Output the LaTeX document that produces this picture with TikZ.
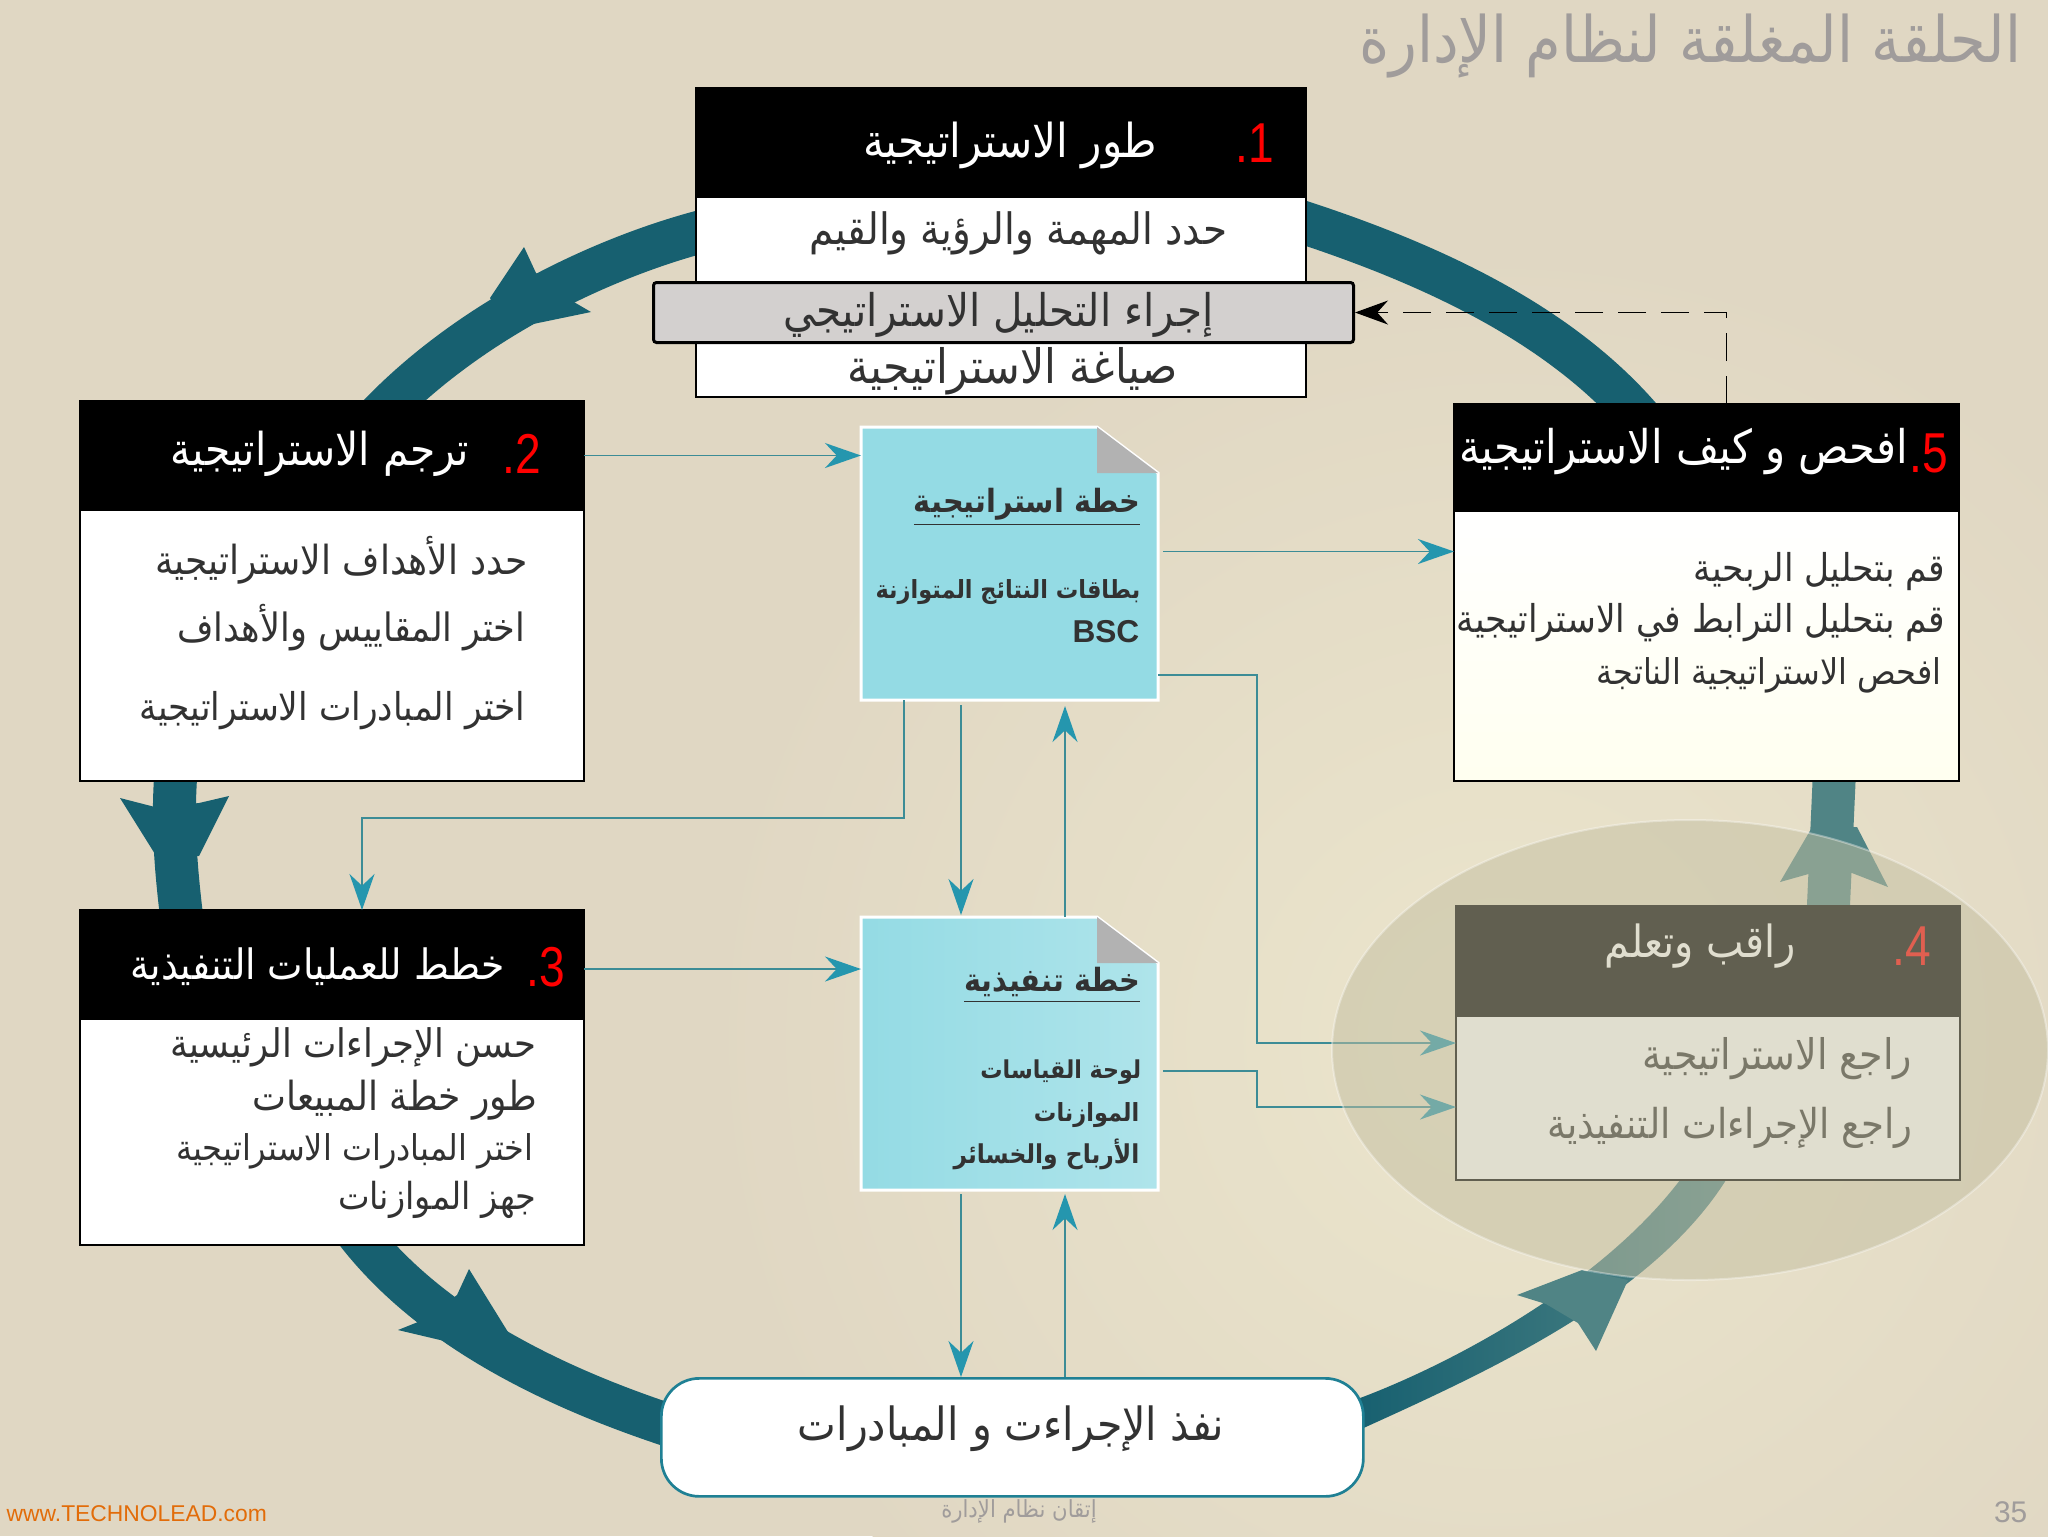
\documentclass[tikz,border=0pt]{standalone}
\usepackage{fontspec}
\setmainfont{Liberation Sans}
\newfontfamily\arabicfont[Script=Arabic,FakeStretch=.9]{DejaVu Sans}
\newfontfamily\digitfont[FakeStretch=.82]{Liberation Sans}
\TeXXeTstate=1
\usepackage{tikz}
\usetikzlibrary{arrows.meta,positioning,backgrounds}
\newcommand{\arb}[1]{\beginR #1\endR}
\definecolor{paper}{RGB}{224,215,195}
\definecolor{glow}{RGB}{235,229,204}
\definecolor{ringteal}{RGB}{23,96,112}
\definecolor{ringfade}{RGB}{80,132,133}
\definecolor{linkteal}{RGB}{60,140,150}
\definecolor{tipteal}{RGB}{37,150,174}
\definecolor{docblue}{RGB}{148,219,228}
\definecolor{foldgrey}{RGB}{178,178,178}
\definecolor{barfill}{RGB}{211,208,207}
\definecolor{inkdark}{RGB}{50,50,50}
\definecolor{titlegrey}{RGB}{160,156,155}
\definecolor{urlorange}{RGB}{226,108,9}
\definecolor{veil}{RGB}{195,190,160}
\tikzset{
    %Define style for boxes
    headbox/.style={
           rectangle,
           anchor=north west,
           fill=black,
           draw=black,
           outer sep=0pt},
    bodybox/.style={
           rectangle,
           fill=white,
           draw=black,
           line width=.15mm,
           outer sep=0pt},
    barbox/.style={
           rectangle,
           anchor=north west,
           rounded corners=.3mm,
           fill=barfill,
           draw=black,
           line width=.3mm},
    pillbox/.style={
           rectangle,
           anchor=north west,
           rounded corners=3.8mm,
           fill=white,
           draw=tipteal!85!black,
           line width=.27mm},
    docbox/.style={
           rectangle,
           anchor=north west,
           outer sep=0pt},
    %Define style for texts
    txt/.style={
           anchor=base east,
           inner sep=0pt,
           text=inkdark,
           font=\arabicfont\fontsize{#1}{#1}\selectfont},
    digit/.style={
           anchor=base east,
           inner sep=0pt,
           text=red,
           font=\digitfont\fontsize{16}{16}\selectfont},
    % Define arrow style
    pil/.style={
           ->,
           >={Stealth[length=3.6mm,width=2.5mm,color=tipteal]},
           draw=linkteal,
           line width=.15mm},
    dashpil/.style={
           ->,
           >={Stealth[length=3.3mm,width=2.4mm,color=black]},
           draw=black,
           dash pattern=on 2.8mm off 1.5mm,
           line width=.13mm},
    ring/.style={
           draw=ringteal,
           line width=4.3mm}
}
\begin{document}
\begin{tikzpicture}[x=.1mm,y=-.1mm]
\useasboundingbox (0,0) rectangle (2048,1536);

 %nodes
\node[headbox, minimum width=61mm, minimum height=10.9mm](head1) at (696,88){};
\node[bodybox, minimum width=61mm, minimum height=20mm, below=0pt of head1](body1){};
\node[barbox, minimum width=70mm, minimum height=6mm](bar1) at (652,281){};

\node[headbox, minimum width=50.4mm, minimum height=10.9mm](head2) at (80,401){};
\node[bodybox, minimum width=50.4mm, minimum height=27.1mm, below=0pt of head2](body2){};

\node[headbox, minimum width=50.4mm, minimum height=10.9mm](head3) at (80,910){};
\node[bodybox, minimum width=50.4mm, minimum height=22.6mm, below=0pt of head3](body3){};

\node[headbox, minimum width=50.4mm, minimum height=11mm](head4) at (1456,906){};
\node[bodybox, minimum width=50.4mm, minimum height=16.4mm, below=0pt of head4](body4){};

\node[headbox, minimum width=50.5mm, minimum height=10.7mm](head5) at (1454,404){};
\node[bodybox, minimum width=50.5mm, minimum height=27mm, below=0pt of head5, draw=black, top color=white, bottom color=yellow!6!white](body5){};

\node[pillbox, minimum width=70.2mm, minimum height=11.8mm](pill) at (660,1377){};

\node[docbox, minimum width=29.7mm, minimum height=27.3mm](docA) at (861,427){};
\node[docbox, minimum width=29.7mm, minimum height=27.3mm](docB) at (861,917){};

 %document sheets
\draw[draw=white, fill=docblue, line width=.3mm] (docA.north west) -- ([xshift=-6.1mm]docA.north east) -- ([yshift=-4.6mm]docA.north east) -- (docA.south east) -- (docA.south west) -- cycle;
\fill[foldgrey] ([xshift=-6.1mm]docA.north east) -- ([yshift=-4.6mm]docA.north east) -- ([xshift=-6.1mm,yshift=-4.6mm]docA.north east) -- cycle;
\draw[draw=white, left color=docblue, right color=docblue!75!white, line width=.3mm] (docB.north west) -- ([xshift=-6.1mm]docB.north east) -- ([yshift=-4.6mm]docB.north east) -- (docB.south east) -- (docB.south west) -- cycle;
\fill[foldgrey] ([xshift=-6.1mm]docB.north east) -- ([yshift=-4.6mm]docB.north east) -- ([xshift=-6.1mm,yshift=-4.6mm]docB.north east) -- cycle;

 %background and ring
\begin{scope}[on background layer]
\fill[paper] (0,0) rectangle (2048,1536);
\begin{scope}
\clip (0,0) rectangle (2048,1536);
\shade[inner color=glow, outer color=paper] (1500,1040) circle (800);
\end{scope}
\draw[ring] ([xshift=2.4mm,yshift=-3mm]head1.south west) .. controls (620,250) and (470,315) .. ([xshift=3.8mm,yshift=-2.4mm]head2.north);
\fill[ringteal] (536,273) -- (524,247) -- (490,298) -- (509,329) -- (591,312) -- (567,298) -- cycle;
\draw[ring] ([xshift=-15.6mm,yshift=1mm]body2.south) .. controls (172,825) and (176,870) .. ([xshift=-15mm,yshift=-1mm]head3.north);
\fill[ringteal] (155,807) -- (120,798) -- (155,854) -- (199,856) -- (229,796) -- (199,803) -- cycle;
\draw[ring] ([xshift=2.3mm,yshift=1.5mm]body3.south) .. controls (420,1315) and (530,1382) .. ([xshift=3mm,yshift=-5.5mm]pill.north west);
\fill[ringteal] (457,1295) -- (469,1269) -- (508,1332) -- (474,1348) -- (398,1330) -- (428,1318) -- cycle;
\shade[left color=ringteal, right color=ringfade] ([xshift=-1mm,yshift=-2.3mm]pill.north east) .. controls (1450,1365) and (1600,1285) .. ([xshift=-2.8mm]body4.south) -- ([xshift=1.8mm]body4.south) .. controls (1650,1300) and (1480,1375) .. ([xshift=-1mm,yshift=-5.5mm]pill.north east) -- cycle;
\fill[ringfade] (1546,1304) -- (1517,1295) -- (1582,1270) -- (1628,1280) -- (1596,1351) -- (1578,1323) -- cycle;
\draw[ring, draw=ringfade] ([xshift=12mm,yshift=-1mm]head4.north) -- ([xshift=12.8mm,yshift=1mm]body5.south);
\fill[ringfade] (1812,873) -- (1780,882) -- (1811,829) -- (1857,827) -- (1888,887) -- (1852,873) -- cycle;
\draw[ring] ([xshift=-5.6mm,yshift=-2.6mm]head5.north) .. controls (1570,330) and (1440,265) .. ([xshift=-2.6mm,yshift=-1.8mm]body1.north east);
\end{scope}

 %box texts
\node[txt=13.3pt](t1a) at (1158,157){\textcolor{white}{\arb{طور الاستراتيجية}}};
\node[digit](n1) at (1275,162){.1};
\node[txt=12.3pt](t1b) at (1228,244){\arb{حدد المهمة والرؤية والقيم}};
\node[txt=12.8pt](t1c) at (1214,326){\arb{إجراء التحليل الاستراتيجي}};
\node[txt=13.5pt](t1d) at (1178,383){\arb{صياغة الاستراتيجية}};

\node[txt=12.9pt](t2a) at (470,465){\textcolor{white}{\arb{ترجم الاستراتيجية}}};
\node[digit](n2) at (542,473){.2};
\node[txt=11.4pt](t2b) at (528,574){\arb{حدد الأهداف الاستراتيجية}};
\node[txt=11.1pt](t2c) at (526,641){\arb{اختر المقاييس والأهداف}};
\node[txt=10.9pt](t2d) at (526,720){\arb{اختر المبادرات الاستراتيجية}};

\node[txt=11.9pt](t3a) at (505,979){\textcolor{white}{\arb{خطط للعمليات التنفيذية}}};
\node[digit](n3) at (566,986){.3};
\node[txt=11.2pt](t3b) at (537,1057){\arb{حسن الإجراءات الرئيسية}};
\node[txt=11.4pt](t3c) at (538,1110){\arb{طور خطة المبيعات}};
\node[txt=10.1pt](t3d) at (534,1160){\arb{اختر المبادرات الاستراتيجية}};
\node[txt=10.6pt](t3e) at (537,1209){\arb{جهز الموازنات}};

\node[txt=12.6pt](t4a) at (1796,957){\textcolor{white}{\arb{راقب وتعلم}}};
\node[digit](n4) at (1932,965){.4};
\node[txt=12pt](t4b) at (1913,1069){\arb{راجع الاستراتيجية}};
\node[txt=11.7pt](t4c) at (1913,1138){\arb{راجع الإجراءات التنفيذية}};

\node[txt=13.2pt](t5a) at (1909,463){\textcolor{white}{\arb{افحص و كيف الاستراتيجية}}};
\node[digit](n5) at (1949,472){.5};
\node[txt=10.9pt](t5b) at (1946,581){\arb{قم بتحليل الربحية}};
\node[txt=10.9pt](t5c) at (1946,632){\arb{قم بتحليل الترابط في الاستراتيجية}};
\node[txt=10.1pt](t5d) at (1942,684){\arb{افحص الاستراتيجية الناتجة}};

\node[txt=13pt](t6) at (1225,1440){\arb{نفذ الإجراءت و المبادرات}};

\node[txt=9.1pt](dA1) at (1141,512){\bfseries\underline{\arb{خطة استراتيجية}}};
\node[txt=7.1pt](dA2) at (1141,598){\bfseries\arb{بطاقات النتائج المتوازنة}};
\node[anchor=base east, inner sep=0pt, text=inkdark, font=\bfseries\fontsize{9}{9}\selectfont](dA3) at (1140,642){BSC};
\node[txt=9.1pt](dB1) at (1141,991){\bfseries\underline{\arb{خطة تنفيذية}}};
\node[txt=7pt](dB2) at (1142,1078){\bfseries\arb{لوحة القياسات}};
\node[txt=7.1pt](dB3) at (1140,1121){\bfseries\arb{الموازنات}};
\node[txt=7.4pt](dB4) at (1140,1163){\bfseries\arb{الأرباح والخسائر}};

 %connectors
\draw[pil] (head2.east) -- (head2.east -| docA.west);
\draw[pil] ([xshift=.5mm,yshift=1.2mm]docA.east) -- ([yshift=1.2mm]docA.east -| body5.west);
\draw[pil] ([yshift=-.45mm]head3.east) -- ([yshift=-.45mm]head3.east -| docB.west);
\draw[pil] ([yshift=2.5mm]docA.south east) -- ++(99,0) |- ([yshift=5.5mm]body4.west);
\draw[pil] ([xshift=.5mm,yshift=-1.75mm]docB.east) -- ++(94,0) |- ([yshift=-.9mm]body4.west);
\draw[pil] ([xshift=4.3mm]docA.south west) -- ++(0,118) -| ([xshift=3mm]head3.north);
\draw[pil] ([xshift=-4.85mm,yshift=-.5mm]docA.south) -- ([xshift=-4.85mm,yshift=.2mm]docB.north);
\draw[pil] ([xshift=5.55mm]docB.north) -- ([xshift=5.55mm,yshift=-.6mm]docA.south);
\draw[pil] ([xshift=-4.85mm,yshift=-.4mm]docB.south) -- ([xshift=-4.85mm]docB.south |- pill.north);
\draw[pil] ([xshift=5.55mm]docB.south |- pill.north) -- ([xshift=5.55mm,yshift=-.4mm]docB.south);
\draw[dashpil] ([xshift=2mm]head5.north) |- (bar1.east);

 %veil over box 4
\fill[veil, fill opacity=.5] (1690,1050) ellipse [x radius=358, y radius=230];
\draw[white, opacity=.35, line width=.2mm] (1690,1050) ellipse [x radius=358, y radius=230];

 %title and footer
\node[txt=18.2pt, text=titlegrey](title) at (2022,62){\arb{الحلقة المغلقة لنظام الإدارة}};
\node[anchor=base west, inner sep=0pt, text=urlorange, font=\fontsize{6.5}{6.5}\selectfont](url) at (6,1521){www.TECHNOLEAD.com};
\node[txt=6.7pt, text=titlegrey, anchor=base](foot) at (1019,1517){\arb{إتقان نظام الإدارة}};
\node[anchor=base east, inner sep=0pt, text=titlegrey, font=\fontsize{8.5}{8.5}\selectfont](pagenum) at (2028,1522){35};
\end{tikzpicture}
\end{document}
